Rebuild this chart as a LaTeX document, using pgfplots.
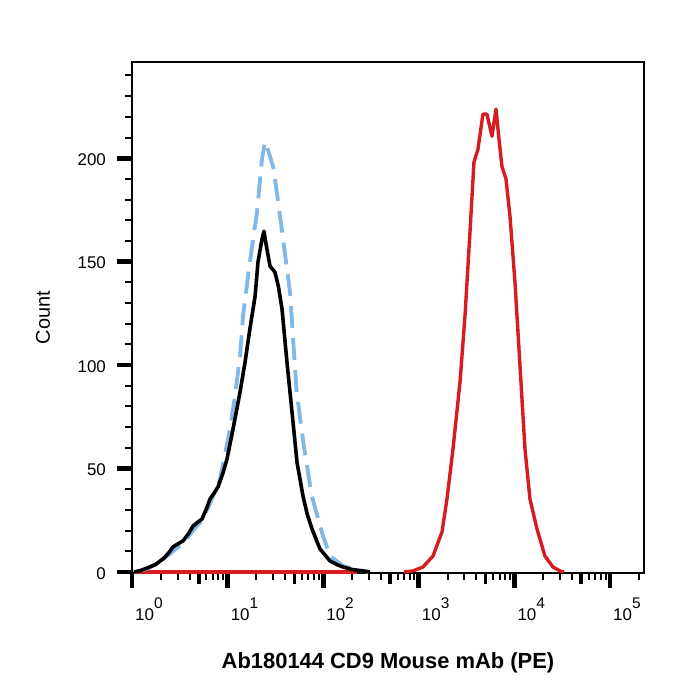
\documentclass[border=0pt]{standalone}
\usepackage{fontspec}
\setmainfont{Liberation Sans}
\usepackage{pgfplots}
\pgfplotsset{compat=1.18}
\definecolor{cdred}{RGB}{214,28,30}
\definecolor{isoblue}{RGB}{128,184,234}
\newcommand{\dec}[1]{10\raisebox{12bp}{\fontsize{15.5}{15.5}\selectfont #1}}
\begin{document}
\begin{tikzpicture}
\useasboundingbox (-132bp,-127bp) rectangle (568bp,573bp);
\begin{axis}[
  at={(0,0)}, anchor=south west,
  scale only axis, width=512bp, height=511bp,
  xmode=log, xmin=1, xmax=227000,
  ymin=-0.5, ymax=246.5,
  xtick={1,10,100,1000,10000,100000},
  xticklabels={\dec{0},\dec{1},\dec{2},\dec{3},\dec{4},\dec{5}},
  minor xtick={2,3,4,5,6,7,8,9,20,30,40,50,60,70,80,90,200,300,400,500,600,700,800,900,2000,3000,4000,5000,6000,7000,8000,9000,20000,30000,40000,50000,60000,70000,80000,90000,200000},
  extra x ticks={5,50,500,5000,50000},
  extra x tick labels={},
  extra x tick style={major tick length=11bp, major tick style={line width=3.5bp, black}},
  ytick={0,50,100,150,200},
  yticklabels={0,50,100,150,200},
  minor ytick={10,20,30,40,60,70,80,90,110,120,130,140,160,170,180,190,210,220,230,240},
  tick pos=left, tick align=outside,
  major tick length=15bp, minor tick length=7bp,
  major tick style={line width=4.8bp, black},
  minor tick style={line width=2bp, black},
  axis line style={line width=2bp},
  ticklabel style={font=\fontsize{17}{17}\selectfont},
  xticklabel style={anchor=base west, inner sep=0pt, xshift=3bp, yshift=-32bp},
  yticklabel style={anchor=east, inner sep=0pt, xshift=-11bp, yshift=-1.5bp},
  xlabel={Ab180144 CD9 Mouse mAb (PE)},
  xlabel style={at={(axis description cs:0.5,-0.18591)}, anchor=base, font=\fontsize{22}{22}\selectfont\bfseries},
  ylabel={Count},
  ylabel style={at={(axis description cs:-0.16016,0.5)}, anchor=base, font=\fontsize{20}{20}\selectfont},
]
% red (CD9 stained)
\addplot[cdred, line width=3.4bp, line join=round] coordinates {(1.05,0) (226,0)};
\addplot[cdred, line width=3.4bp, line join=round] coordinates {
(700,0) (869,0.5) (1107,2.4) (1408,7.7) (1749,19.3) (1973,35.3) (2279,59.4)
(2700,91.8) (3044,123.7) (3433,164.3) (3779,198.1) (4159,204.3) (4694,221.3)
(5165,221.3) (5828,210.6) (6424,223.7) (6902,209.2) (7413,196.1) (8171,189.9)
(8996,172.0) (10144,140.1) (11455,99.5) (12916,59.4) (14556,35.3) (17232,20.8)
(20872,7.7) (25335,2.4) (30000,0.5) (33000,0)};
% blue dashed (isotype)
\addplot[isoblue, line width=3.8bp, dash pattern=on 22bp off 10bp] coordinates {
(1.05,0) (1.44,1.5) (2.11,6) (2.68,10) (3.42,14) (4.35,20) (5.40,25) (6.55,33)
(8.33,44.9) (10.6,69.1) (11.9,84.5) (13.5,104.3) (14.5,123.7) (17.1,149.8)
(20.3,173.9) (22.9,199.5) (24.6,208) (26.5,204) (30.1,195.5) (34,178) (38.3,160)
(45.0,135) (48.7,111) (52.8,87) (61.9,62.8) (75.8,36.9) (99.5,17.4) (118,7.7)
(161,2.9) (261,0.5) (300,0)};
% black (unstained)
\addplot[black, line width=3.6bp, line join=round] coordinates {
(1.05,0) (1.2,0.5) (1.44,1.9) (1.75,3.5) (2.11,6.3) (2.4,9.0) (2.68,12.1) (3.0,13.5)
(3.42,15.0) (3.9,18.5) (4.35,22.2) (4.85,24.0) (5.40,25.6) (6.0,30.5) (6.55,35.3)
(7.2,38.0) (7.94,41.1) (8.9,47.5) (9.86,54.6) (11.4,69.1) (13.5,87.0) (15.3,102)
(17.1,117.4) (19.4,133.3) (20.8,149.8) (22.9,160.9) (24.0,164.7) (25.8,156.0)
(27.8,147.8) (31.3,144.9) (34.0,138) (37.1,127.1) (41.8,101.4) (47.2,77.3)
(53.2,53.1) (61.5,36.7) (68,28) (76.4,20.8) (92.6,11.1) (118,5.3) (140,3.5)
(161,2.4) (200,1.2) (261,0.5) (309,0)};
\end{axis}
\end{tikzpicture}
\end{document}
